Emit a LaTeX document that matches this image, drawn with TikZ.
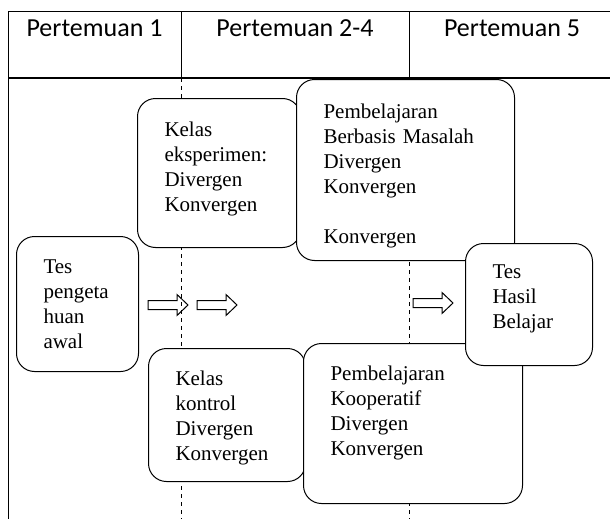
\documentclass[tikz,border=0pt]{standalone}
\usepackage{fontspec}
\setmainfont{Liberation Serif}
\newfontfamily\headfont{Carlito}

\tikzset{
  kotak/.style={draw, line width=1pt, rounded corners=18pt, fill=white,
    anchor=north west, align=left, inner xsep=27pt, inner ysep=0pt,
    font=\fontsize{21}{25}\selectfont},
  judul/.style={anchor=base, font=\headfont\fontsize{26}{30}\selectfont},
  garis/.style={line width=1pt},
  batas/.style={line width=1pt, dash pattern=on 4pt off 4pt},
  pics/panah/.style={code={
    \draw[line width=1pt] (0,-4.5) -- (29,-4.5) -- (29,-10.5) -- (40,0) --
      (29,10.5) -- (29,4.5) -- (0,4.5) -- cycle;}}
}

\begin{document}
\begin{tikzpicture}[x=1pt, y=-1pt]
        \useasboundingbox (0,0) rectangle (610,519);

        % tabel pertemuan
        \draw[garis] (610,12) -- (8,12) -- (8,519);
        \draw[line width=1.3pt] (8,78) -- (610,78);
        \draw[garis] (181,12) -- (181,78);
        \draw[garis] (409,12) -- (409,78);
        \node[judul] (p1) at (94.5,37) {Pertemuan 1};
        \node[judul] (p2) at (295,37) {Pertemuan 2-4};
        \node[judul] (p3) at (512,37) {Pertemuan 5};

        % batas pertemuan
        \draw[batas] (181,78) -- (181,519);
        \draw[batas] (409,78) -- (409,519);

        % kotak kegiatan
        \node[kotak, text width=68pt, text height=37pt, text depth=98pt]
              (tesawal) at (16,236) {Tes\\pengeta\\huan\\awal};
        \node[kotak, text width=109pt, text height=38pt, text depth=111pt]
              (eksperimen) at (137,98) {Kelas\\eksperimen:\\Divergen\\Konvergen};
        \node[kotak, text width=164pt, text height=39pt, text depth=142pt]
              (pbm) at (296,79) {Pembelajaran\\Berbasis Masalah\\Divergen\\Konvergen\\[25pt]Konvergen};
        \node[kotak, text width=103pt, text height=37pt, text depth=96pt]
              (kontrol) at (148,348) {Kelas\\kontrol\\Divergen\\Konvergen};
        \node[kotak, text width=165pt, text height=37pt, text depth=123pt]
              (kooperatif) at (303,343) {Pembelajaran\\Kooperatif\\Divergen\\Konvergen};
        \node[kotak, text width=73pt, text height=35pt, text depth=87pt]
              (teshasil) at (465,243) {Tes\\Hasil\\Belajar};

        % panah
        \pic at (148,305) {panah};
        \pic at (197,305) {panah};
        \pic at (413,303) {panah};
    \end{tikzpicture}
\end{document}
